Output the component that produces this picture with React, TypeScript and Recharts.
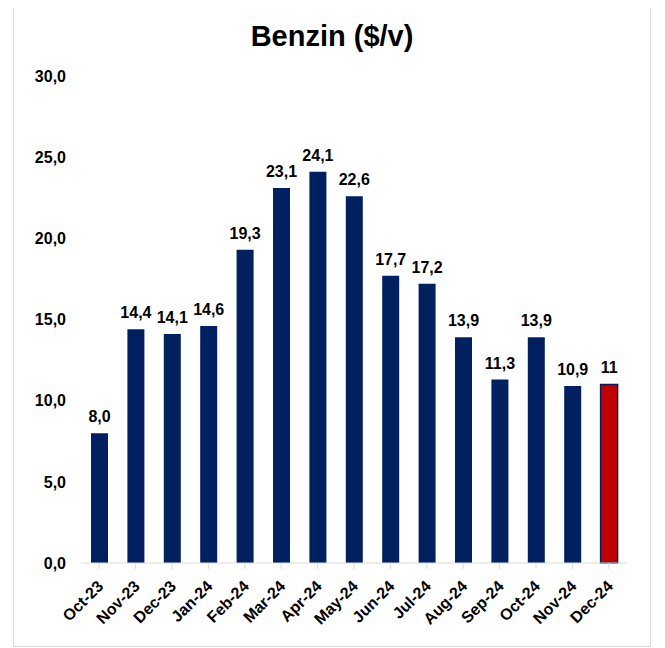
import { BarChart, Bar, XAxis, YAxis, Cell, LabelList } from "recharts";

const months = ["Oct-23", "Nov-23", "Dec-23", "Jan-24", "Feb-24", "Mar-24", "Apr-24", "May-24", "Jun-24", "Jul-24", "Aug-24", "Sep-24", "Oct-24", "Nov-24", "Dec-24"];
const prices = [8.0, 14.4, 14.1, 14.6, 19.3, 23.1, 24.1, 22.6, 17.7, 17.2, 13.9, 11.3, 13.9, 10.9, 11];
const priceLabels = ["8,0", "14,4", "14,1", "14,6", "19,3", "23,1", "24,1", "22,6", "17,7", "17,2", "13,9", "11,3", "13,9", "10,9", "11"];
const yTicks = [0, 5, 10, 15, 20, 25, 30];

const data = months.map((m, i) => ({ month: m, price: prices[i], label: priceLabels[i] }));

const font = "'Liberation Sans', Arial, sans-serif";

export default function App() {
  return (
    <div
      style={{
        position: "relative",
        marginLeft: 5,
        marginTop: -7,
        width: 638,
        height: 646,
        border: "1px solid #d9d9d9",
        boxSizing: "border-box",
        fontFamily: font,
      }}
    >
      <div
        style={{
          position: "absolute",
          top: 18,
          left: 0,
          width: "100%",
          textAlign: "center",
          fontWeight: "bold",
          fontSize: 29,
          color: "#000",
        }}
      >
        Benzin ($/v)
      </div>
      <BarChart
        width={636}
        height={644}
        data={data}
        margin={{ top: 74, right: 23, bottom: 0, left: 0 }}
        barSize={17}
      >
        <XAxis
          dataKey="month"
          height={83}
          interval={0}
          stroke="#d9d9d9"
          tickSize={6}
          tick={(props: any) => (
            <g transform={`translate(${props.x - 3}, ${props.y + 8}) rotate(-45)`}>
              <text
                x={0}
                y={0}
                dy="0.72em"
                textAnchor="end"
                fontFamily={font}
                fontWeight="bold"
                fontSize={16}
                fill="#000"
              >
                {props.payload.value}
              </text>
            </g>
          )}
        />
        <YAxis
          width={67}
          domain={[0, 30]}
          ticks={yTicks}
          axisLine={false}
          tickLine={false}
          tickSize={0}
          tickMargin={15}
          tickFormatter={(v: number) => v.toFixed(1).replace(".", ",")}
          tick={{ fontFamily: font, fontWeight: "bold", fontSize: 16, fill: "#000" }}
        />
        <Bar dataKey="price" isAnimationActive={false}>
          {data.map((d, i) => (
            <Cell
              key={d.month}
              fill={i === data.length - 1 ? "#C00000" : "#002060"}
              stroke={i === data.length - 1 ? "#002060" : "none"}
              strokeWidth={i === data.length - 1 ? 1.5 : 0}
            />
          ))}
          <LabelList
            dataKey="label"
            position="top"
            offset={11}
            style={{ fontFamily: font, fontWeight: "bold", fontSize: 16, fill: "#000" }}
          />
        </Bar>
      </BarChart>
    </div>
  );
}
